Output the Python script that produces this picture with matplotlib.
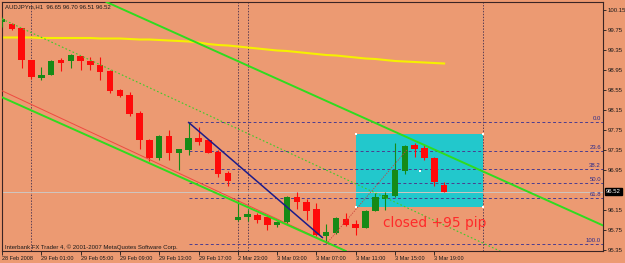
import matplotlib
matplotlib.use('Agg')
import matplotlib.pyplot as plt
import matplotlib.transforms as mtransforms
from matplotlib.patches import Rectangle

# ---------------- data ----------------
SYMBOL = 'AUDJPYm,H1'

opens = [99.91, 99.88, 99.78, 99.15, 98.80, 98.85, 99.14, 99.13, 99.23, 99.12,
         99.05, 98.93, 98.55, 98.45, 98.10, 97.54, 97.18, 97.62, 97.30, 97.36,
         97.59, 97.54, 97.30, 96.88, 95.96, 96.00, 96.05, 96.00, 95.84, 95.90,
         96.40, 96.30, 96.16, 95.63, 95.68, 95.97, 95.88, 95.80, 96.13, 96.38,
         96.42, 96.92, 97.44, 97.38, 97.18, 96.65]
highs = [100.01, 99.89, 99.80, 99.16, 99.02, 99.15, 99.18, 99.26, 99.24, 99.20,
         99.22, 98.96, 98.57, 98.52, 98.12, 97.56, 97.65, 97.75, 97.38, 97.90,
         97.82, 97.58, 97.35, 96.92, 96.35, 96.15, 96.09, 96.03, 95.92, 96.42,
         96.52, 96.37, 96.29, 95.87, 96.01, 96.10, 95.96, 96.15, 96.49, 96.52,
         97.48, 97.45, 97.48, 97.45, 97.22, 96.70]
lows = [99.81, 99.75, 98.98, 98.77, 98.75, 98.84, 98.94, 98.98, 98.95, 98.95,
        98.75, 98.48, 98.40, 98.03, 97.38, 97.12, 97.15, 97.15, 96.95, 97.25,
        97.45, 97.30, 96.82, 96.62, 95.92, 95.92, 95.89, 95.75, 95.82, 95.88,
        96.17, 95.95, 95.62, 95.47, 95.67, 95.83, 95.65, 95.79, 96.12, 96.16,
        96.40, 96.88, 97.22, 97.15, 96.62, 96.51]
closes = [99.97, 99.77, 99.15, 98.82, 98.85, 99.13, 99.10, 99.25, 99.12, 99.04,
          98.92, 98.53, 98.43, 98.07, 97.55, 97.18, 97.62, 97.30, 97.37, 97.60,
          97.52, 97.30, 96.88, 96.74, 96.00, 96.07, 95.96, 95.85, 95.90, 96.40,
          96.31, 96.13, 95.64, 95.71, 95.99, 95.86, 95.80, 96.13, 96.40, 96.44,
          96.95, 97.42, 97.38, 97.18, 96.70, 96.52]
ma_line = [99.60, 99.60, 99.60, 99.60, 99.59, 99.59, 99.59, 99.59, 99.59, 99.59,
           99.58, 99.58, 99.58, 99.57, 99.56, 99.56, 99.55, 99.54, 99.53, 99.52,
           99.50, 99.47, 99.45, 99.44, 99.42, 99.40, 99.38, 99.36, 99.34, 99.33,
           99.31, 99.29, 99.27, 99.25, 99.24, 99.22, 99.20, 99.18, 99.17, 99.15,
           99.13, 99.12, 99.11, 99.10, 99.09, 99.08]

x_tick_idx = [0, 4, 8, 12, 16, 20, 24, 28, 32, 36, 40, 44]
x_tick_labels = ['28 Feb 2008', '29 Feb 01:00', '29 Feb 05:00', '29 Feb 09:00',
                 '29 Feb 13:00', '29 Feb 17:00', '2 Mar 23:00', '3 Mar 03:00',
                 '3 Mar 07:00', '3 Mar 11:00', '3 Mar 15:00', '3 Mar 19:00']
y_ticks = [100.15, 99.75, 99.35, 98.95, 98.55, 98.15, 97.75, 97.35, 96.95,
           96.15, 95.75, 95.35]
separators = [3, 24, 25, 49]

fib_levels = [0.0, 23.6, 38.2, 50.0, 61.8, 100.0]
FIB_HI_IDX = 19
FIB_LO_IDX = 33

channel_top = [(10.63, 100.31), (61.07, 95.85)]
channel_bottom = [(0.05, 98.40), (35.1, 95.32)]
red_line = [(0.05, 98.53), (35.1, 95.32)]
dotted_green = [(0.0, 99.97), (51.0, 95.30)]
blue_line = [(19, 97.90), (32.6, 95.60)]
red_dotted = [(33, 95.47), (41.2, 97.35)]
box_x = (36, 49)
box_y = (96.20, 97.67)
NOTE = 'closed +95 pip'
FOOTER = 'Interbank FX Trader 4, \u00a9 2001-2007 MetaQuotes Software Corp.'

# ---------------- style ----------------
BG = '#ec9a72'
BULL = '#168a16'
BEAR = '#ff0a0a'
SMALL = ['Liberation Sans', 'DejaVu Sans']
FS = 4.3

fig = plt.figure(figsize=(6.25, 2.63), dpi=100, facecolor=BG)
ax = fig.add_axes([2 / 625, 12 / 263, 601 / 625, 249 / 263], facecolor=BG)
ax.set_xlim(0.05, 61.17)
ax.set_ylim(95.33, 100.31)

# cyan box (drawn behind everything)
ax.add_patch(Rectangle((box_x[0], box_y[0]), box_x[1] - box_x[0], box_y[1] - box_y[0],
                       facecolor='#22c8cc', edgecolor='none', zorder=0.5))

# period separators
for s in separators:
    ax.axvline(s, color='#5b3f55', lw=0.7, ls=(0, (1.5, 1.5)), zorder=1)

# fibonacci levels
hi = highs[FIB_HI_IDX]
lo = lows[FIB_LO_IDX]
xr = mtransforms.blended_transform_factory(ax.transAxes, ax.transData)
for lev in fib_levels:
    p = hi - lev / 100 * (hi - lo)
    ax.hlines(p, FIB_HI_IDX, 61.17, color='#4b3d8f', lw=0.7, ls=(0, (3, 2.5)), zorder=1.5)
    ax.text(1 - 2 / 601, p + 0.02, f'{lev:.1f}', transform=xr, ha='right', va='bottom',
            fontsize=FS, color='#2a2a8c', family=SMALL, zorder=6)

# bid line
bid = closes[-1]
ax.axhline(bid, color='#cfc6c0', lw=0.7, zorder=1.6)

# moving average
idx = list(range(len(closes)))
ax.plot(idx, ma_line, color='#f6f000', lw=1.5, zorder=2)

# candles
for i in idx:
    o, h, l, c = opens[i], highs[i], lows[i], closes[i]
    col = BULL if c >= o else BEAR
    ax.vlines(i, l, h, color=col, lw=0.8, zorder=3)
    bottom = min(o, c)
    height = max(abs(c - o), 0.03)
    ax.add_patch(Rectangle((i - 0.33, bottom), 0.66, height, facecolor=col,
                           edgecolor='none', zorder=3.5))

# trend lines
ax.axline(channel_top[0], channel_top[1], color='#2fdc1e', lw=1.4, zorder=4)
ax.axline(channel_bottom[0], channel_bottom[1], color='#2fdc1e', lw=1.4, zorder=4)
ax.axline(red_line[0], red_line[1], color='#ef4a40', lw=0.7, zorder=3.9)
ax.plot([dotted_green[0][0], dotted_green[1][0]], [dotted_green[0][1], dotted_green[1][1]],
        color='#3ccc2a', lw=0.8, ls=(0, (1.5, 2)), zorder=4)
ax.plot([blue_line[0][0], blue_line[1][0]], [blue_line[0][1], blue_line[1][1]],
        color='#1c1c8a', lw=1.1, zorder=4)
ax.plot([red_dotted[0][0], red_dotted[1][0]], [red_dotted[0][1], red_dotted[1][1]],
        color='#c8403c', lw=0.6, ls=(0, (1.5, 1.5)), zorder=4)

# selection markers on the box
bx = [box_x[0], box_x[1], box_x[1], box_x[0], (box_x[0] + box_x[1]) / 2]
by = [box_y[1], box_y[1], box_y[0], box_y[0], (box_y[0] + box_y[1]) / 2]
ax.scatter(bx, by, s=2.5, marker='s', color='white', zorder=5, linewidths=0)

# texts
ax.text(38.77, 95.82, NOTE, fontsize=9.9, color='#ff2a2a', family='DejaVu Sans',
        ha='left', va='baseline', zorder=6)
ax.text(3 / 601, 1 - 5 / 249,
        f'{SYMBOL}  {opens[-1]:.2f} {highs[-1]:.2f} {lows[-1]:.2f} {closes[-1]:.2f}',
        transform=ax.transAxes, fontsize=FS, family=SMALL, color='#1a1a1a',
        ha='left', va='center', zorder=6)
ax.text(3 / 601, 4 / 249, FOOTER, transform=ax.transAxes, fontsize=FS, family=SMALL,
        color='#1a1a1a', ha='left', va='center', zorder=6)
ax.text(1 + 3 / 601, bid, f'{bid:.2f}', transform=xr, fontsize=FS, family=SMALL,
        color='white', ha='left', va='center', zorder=6,
        bbox=dict(boxstyle='square,pad=0.2', fc='black', ec='black'), clip_on=False)

# axes / ticks
ax.yaxis.tick_right()
ax.set_yticks(y_ticks)
ax.set_yticklabels([f'{v:.2f}' for v in y_ticks], family=SMALL)
ax.set_xticks(x_tick_idx)
ax.set_xticklabels(x_tick_labels, ha='left', family=SMALL)
ax.tick_params(axis='y', direction='out', length=2, width=0.6, pad=1.2,
               labelsize=FS, colors='#1a1a1a')
ax.tick_params(axis='x', direction='out', length=3, width=0.6, pad=0.8,
               labelsize=4.0, colors='#1a1a1a')
for sp in ax.spines.values():
    sp.set_color('#3a2424')
    sp.set_linewidth(0.8)

fig.savefig('out.png', dpi=100, facecolor=BG)
